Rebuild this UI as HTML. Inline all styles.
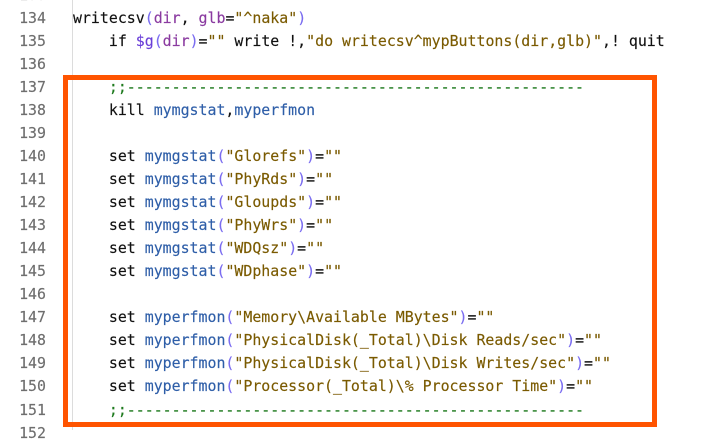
<!DOCTYPE html>
<html><head><meta charset="utf-8"><style>
body{margin:0;width:711px;height:430px;overflow:hidden;background:#fff;position:relative;font-family:"DejaVu Sans Mono","Liberation Mono",monospace;font-size:14.9px;-webkit-text-stroke:0.15px currentColor;}
.l{position:absolute;left:0;height:23px;line-height:23px;white-space:pre;width:711px}
.n{position:absolute;right:665px;color:#6e6e6e;text-align:right}
.c{position:absolute;left:73px;color:#111}
.sep{position:absolute;left:72px;top:0;width:1px;height:430px;background:#dcdcdc}
.b{color:#2e5ea8}.p{color:#8a3aa0}.s{color:#7a5a00}.k{color:#6a3fd8}.g{color:#1e7a1e}.pr{color:#7a6cf0}
.box{position:absolute;left:63px;top:75px;width:584px;height:342px;border:5px solid #ff5400}
</style></head><body>
<div class="sep"></div>
<div class="l" style="top:-16.5px"><span class="n">133</span></div>
<div class="l" style="top:6.5px"><span class="n">134</span><span class="c">writecsv<span class="pr">(</span><span class="p">dir</span>, <span class="p">glb</span>=<span class="s">"^naka"</span><span class="pr">)</span></span></div>
<div class="l" style="top:29.6px"><span class="n">135</span><span class="c">    if <span class="k">$g</span><span class="pr">(</span><span class="p">dir</span><span class="pr">)</span>=<span class="s">""</span> write !,<span class="s">"do writecsv^mypButtons(dir,glb)"</span>,! quit</span></div>
<div class="l" style="top:52.6px"><span class="n">136</span></div>
<div class="l" style="top:75.7px"><span class="n">137</span><span class="c">    <span class="g">;;---------------------------------------------------</span></span></div>
<div class="l" style="top:98.7px"><span class="n">138</span><span class="c">    kill <span class="b">mymgstat</span>,<span class="b">myperfmon</span></span></div>
<div class="l" style="top:121.8px"><span class="n">139</span></div>
<div class="l" style="top:144.9px"><span class="n">140</span><span class="c">    set <span class="b">mymgstat</span><span class="pr">(</span><span class="s">"Glorefs"</span><span class="pr">)</span>=<span class="s">""</span></span></div>
<div class="l" style="top:167.9px"><span class="n">141</span><span class="c">    set <span class="b">mymgstat</span><span class="pr">(</span><span class="s">"PhyRds"</span><span class="pr">)</span>=<span class="s">""</span></span></div>
<div class="l" style="top:191px"><span class="n">142</span><span class="c">    set <span class="b">mymgstat</span><span class="pr">(</span><span class="s">"Gloupds"</span><span class="pr">)</span>=<span class="s">""</span></span></div>
<div class="l" style="top:214px"><span class="n">143</span><span class="c">    set <span class="b">mymgstat</span><span class="pr">(</span><span class="s">"PhyWrs"</span><span class="pr">)</span>=<span class="s">""</span></span></div>
<div class="l" style="top:237.1px"><span class="n">144</span><span class="c">    set <span class="b">mymgstat</span><span class="pr">(</span><span class="s">"WDQsz"</span><span class="pr">)</span>=<span class="s">""</span></span></div>
<div class="l" style="top:260.2px"><span class="n">145</span><span class="c">    set <span class="b">mymgstat</span><span class="pr">(</span><span class="s">"WDphase"</span><span class="pr">)</span>=<span class="s">""</span></span></div>
<div class="l" style="top:283.2px"><span class="n">146</span></div>
<div class="l" style="top:306.3px"><span class="n">147</span><span class="c">    set <span class="b">myperfmon</span><span class="pr">(</span><span class="s">"Memory\Available MBytes"</span><span class="pr">)</span>=<span class="s">""</span></span></div>
<div class="l" style="top:329.3px"><span class="n">148</span><span class="c">    set <span class="b">myperfmon</span><span class="pr">(</span><span class="s">"PhysicalDisk(_Total)\Disk Reads/sec"</span><span class="pr">)</span>=<span class="s">""</span></span></div>
<div class="l" style="top:352.4px"><span class="n">149</span><span class="c">    set <span class="b">myperfmon</span><span class="pr">(</span><span class="s">"PhysicalDisk(_Total)\Disk Writes/sec"</span><span class="pr">)</span>=<span class="s">""</span></span></div>
<div class="l" style="top:375.4px"><span class="n">150</span><span class="c">    set <span class="b">myperfmon</span><span class="pr">(</span><span class="s">"Processor(_Total)\% Processor Time"</span><span class="pr">)</span>=<span class="s">""</span></span></div>
<div class="l" style="top:398.5px"><span class="n">151</span><span class="c">    <span class="g">;;---------------------------------------------------</span></span></div>
<div class="l" style="top:421.6px"><span class="n">152</span></div>
<div class="box"></div>
</body></html>
